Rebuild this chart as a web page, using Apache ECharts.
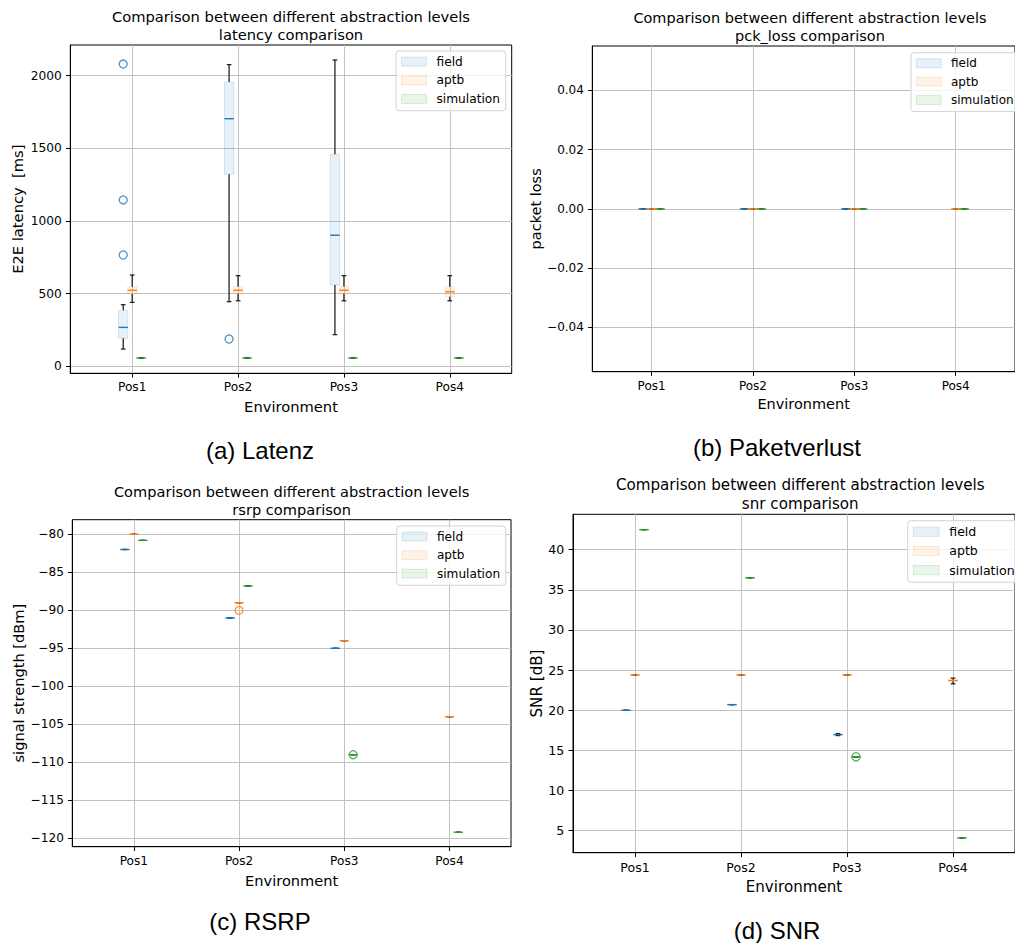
<!DOCTYPE html>
<html>
<head>
<meta charset="utf-8">
<script src="https://cdn.jsdelivr.net/npm/echarts@6/dist/echarts.min.js"></script>
<style>
html,body{margin:0;padding:0;background:#fff;}
#chart{width:1015px;height:943px;}
</style>
</head>
<body>
<div id="chart"></div>
<script>
// ---------------- DATA ----------------
const categories = ['Pos1', 'Pos2', 'Pos3', 'Pos4'];
const groups = ['field', 'aptb', 'simulation'];

// Box statistics per category: [lower whisker, Q1, median, Q3, upper whisker]; null = no data
const latencyField = [[119, 193, 268, 385, 424], [445, 1321, 1704, 1957, 2076], [218, 560, 902, 1459, 2108], null];
const latencyAptb  = [[440, 498, 523, 548, 628], [451, 500, 523, 550, 624], [451, 500, 523, 550, 624], [451, 479, 513, 548, 624]];
const latencySim   = [[55, 56, 57, 58, 60], [55, 56, 57, 58, 60], [55, 56, 57, 58, 60], [55, 56, 57, 58, 60]];
// Outliers: [category index, value]
const latencyFieldFliers = [[0, 2080], [0, 1145], [0, 766], [1, 188]];
const latencyTicks = [0, 500, 1000, 1500, 2000];

const pckLossField = [[0, 0, 0, 0, 0], [0, 0, 0, 0, 0], [0, 0, 0, 0, 0], null];
const pckLossAptb  = [[0, 0, 0, 0, 0], [0, 0, 0, 0, 0], [0, 0, 0, 0, 0], [0, 0, 0, 0, 0]];
const pckLossSim   = [[0, 0, 0, 0, 0], [0, 0, 0, 0, 0], [0, 0, 0, 0, 0], [0, 0, 0, 0, 0]];
const pckLossTicks = [-0.04, -0.02, 0, 0.02, 0.04];

const rsrpField = [[-82, -82, -82, -82, -82], [-91, -91, -91, -91, -91], [-95, -95, -95, -95, -95], null];
const rsrpAptb  = [[-80, -80, -80, -80, -80], [-89, -89, -89, -89, -89], [-94, -94, -94, -94, -94], [-104, -104, -104, -104, -104]];
const rsrpSim   = [[-80.8, -80.8, -80.8, -80.8, -80.8], [-86.8, -86.8, -86.8, -86.8, -86.8], [-109, -109, -109, -109, -109], [-119.2, -119.2, -119.2, -119.2, -119.2]];
const rsrpAptbFliers = [[1, -90]];
const rsrpSimFliers  = [[2, -109]];
const rsrpTicks = [-120, -115, -110, -105, -100, -95, -90, -85, -80];

const snrField = [[20, 20, 20, 20, 20], [20.7, 20.7, 20.7, 20.7, 20.7], [16.85, 16.95, 16.97, 17.0, 17.1], null];
const snrAptb  = [[24.4, 24.4, 24.4, 24.4, 24.4], [24.4, 24.4, 24.4, 24.4, 24.4], [24.4, 24.4, 24.4, 24.4, 24.4], [23.3, 23.6, 23.7, 23.8, 24.0]];
const snrSim   = [[42.5, 42.5, 42.5, 42.5, 42.5], [36.5, 36.5, 36.5, 36.5, 36.5], [14.2, 14.2, 14.2, 14.2, 14.2], [4.1, 4.1, 4.1, 4.1, 4.1]];
const snrSimFliers = [[2, 14.2]];
const snrTicks = [5, 10, 15, 20, 25, 30, 35, 40];

const titleLine1 = 'Comparison between different abstraction levels';

// ---------------- STYLE / LAYOUT ----------------
const FONT = 'DejaVu Sans';
const CAPTION_FONT = 'Liberation Sans';
const colors = ['#1f77b4', '#ff7f0e', '#2ca02c'];
const boxFill = ['rgba(31,119,180,0.10)', 'rgba(255,127,14,0.10)', 'rgba(44,160,44,0.10)'];
const boxEdge = ['rgba(31,119,180,0.16)', 'rgba(255,127,14,0.16)', 'rgba(44,160,44,0.16)'];
const offsets = [-0.085, 0, 0.085];
const BOX_W = 0.088;
const X_MIN = 0.415, X_MAX = 4.585;
const GRID_COLOR = '#c2c2c2';

const minusFmt = s => s.replace('-', '\u2212');

const panels = [
  { sub: 'latency comparison', yName: 'E2E latency  [ms]', caption: '(a) Latenz',
    box: [latencyField, latencyAptb, latencySim], fliers: [latencyFieldFliers, [], []],
    yMin: -48, yMax: 2211, ticks: latencyTicks, fmt: v => minusFmt(String(v)),
    grid: { left: 70.3, top: 45, width: 441.4, height: 328.3 }, s: 1, nameGapY: 45,
    caption_xy: [260, 450], legend: { left: 396, top: 51 } },
  { sub: 'pck_loss comparison', yName: 'packet loss', caption: '(b) Paketverlust',
    box: [pckLossField, pckLossAptb, pckLossSim], fliers: [[], [], []],
    yMin: -0.055, yMax: 0.055, ticks: pckLossTicks, fmt: v => minusFmt(Number(v).toFixed(2)),
    grid: { left: 592.3, top: 46, width: 435.3, height: 325.7 }, s: 0.986, nameGapY: 49.7,
    caption_xy: [777, 447], legend: { left: 911, top: 52.7 } },
  { sub: 'rsrp comparison', yName: 'signal strength [dBm]', caption: '(c) RSRP',
    box: [rsrpField, rsrpAptb, rsrpSim], fliers: [[], rsrpAptbFliers, rsrpSimFliers],
    yMin: -121.1, yMax: -78.08, ticks: rsrpTicks, fmt: v => minusFmt(String(v)),
    grid: { left: 72.3, top: 519.7, width: 438.7, height: 327 }, s: 0.993, nameGapY: 46.6,
    caption_xy: [260, 921], legend: { left: 396.7, top: 526 } },
  { sub: 'snr comparison', yName: 'SNR [dB]', caption: '(d) SNR',
    box: [snrField, snrAptb, snrSim], fliers: [[], [], snrSimFliers],
    yMin: 2.26, yMax: 44.41, ticks: snrTicks, fmt: v => minusFmt(String(v)),
    grid: { left: 573, top: 514.3, width: 454.5, height: 338.4 }, s: 1.03, nameGapY: 29,
    caption_xy: [777, 930], legend: { left: 907.7, top: 520.7 } }
];

function makeRenderer(g) {
  return function (params, api) {
    const x = api.value(0);
    const lo = api.value(1), q1 = api.value(2), med = api.value(3), q3 = api.value(4), hi = api.value(5);
    const w = api.size([BOX_W, 0])[0];
    const pLo = api.coord([x, lo]), pQ1 = api.coord([x, q1]), pMed = api.coord([x, med]);
    const pQ3 = api.coord([x, q3]), pHi = api.coord([x, hi]);
    const cx = pMed[0];
    const wStyle = { stroke: '#222', lineWidth: 1.3 };
    return {
      type: 'group',
      children: [
        { type: 'rect', shape: { x: cx - w / 2, y: pQ3[1], width: w, height: pQ1[1] - pQ3[1] },
          style: { fill: boxFill[g], stroke: boxEdge[g], lineWidth: 1 } },
        { type: 'line', shape: { x1: cx, y1: pQ3[1], x2: cx, y2: pHi[1] }, style: wStyle },
        { type: 'line', shape: { x1: cx, y1: pQ1[1], x2: cx, y2: pLo[1] }, style: wStyle },
        { type: 'line', shape: { x1: cx - w / 4, y1: pHi[1], x2: cx + w / 4, y2: pHi[1] }, style: wStyle },
        { type: 'line', shape: { x1: cx - w / 4, y1: pLo[1], x2: cx + w / 4, y2: pLo[1] }, style: wStyle },
        { type: 'line', shape: { x1: cx - w / 2, y1: pMed[1], x2: cx + w / 2, y2: pMed[1] },
          style: { stroke: colors[g], lineWidth: 1.4 } }
      ]
    };
  };
}

const option = {
  animation: false,
  backgroundColor: '#fff',
  grid: [], xAxis: [], yAxis: [], series: [], legend: [], graphic: []
};

panels.forEach((p, i) => {
  const s = p.s;
  option.grid.push(Object.assign({ show: true, borderColor: '#000', borderWidth: 1, backgroundColor: 'transparent' }, p.grid));
  option.xAxis.push({
    type: 'value', gridIndex: i, min: X_MIN, max: X_MAX,
    name: 'Environment', nameLocation: 'middle', nameGap: 26 * s,
    nameTextStyle: { fontFamily: FONT, fontSize: 14.7 * s, color: '#000' },
    axisLine: { show: true, onZero: false, lineStyle: { color: '#000', width: 1 } },
    axisTick: { show: true, length: 4.3 * s, lineStyle: { color: '#000' }, customValues: [1, 2, 3, 4] },
    axisLabel: { customValues: [1, 2, 3, 4], formatter: v => categories[Math.round(v) - 1],
      margin: 8 * s, fontFamily: FONT, fontSize: 12.2 * s, color: '#000' },
    splitLine: { show: true, lineStyle: { color: GRID_COLOR, width: 1 } }
  });
  option.yAxis.push({
    type: 'value', gridIndex: i, min: p.yMin, max: p.yMax,
    name: p.yName, nameLocation: 'middle', nameGap: p.nameGapY,
    nameTextStyle: { fontFamily: FONT, fontSize: 14.7 * s, color: '#000' },
    axisLine: { show: true, onZero: false, lineStyle: { color: '#000', width: 1 } },
    axisTick: { show: true, length: 4.3 * s, lineStyle: { color: '#000' }, customValues: p.ticks },
    axisLabel: { customValues: p.ticks, formatter: p.fmt, margin: 8.5 * s,
      fontFamily: FONT, fontSize: 12.2 * s, color: '#000' },
    splitLine: { show: true, lineStyle: { color: GRID_COLOR, width: 1 } }
  });
  groups.forEach((gName, g) => {
    const data = [];
    p.box[g].forEach((st, ci) => {
      if (st) data.push([ci + 1 + offsets[g]].concat(st));
    });
    option.series.push({
      type: 'custom', name: gName, xAxisIndex: i, yAxisIndex: i,
      renderItem: makeRenderer(g), data: data, silent: true,
      encode: { x: 0, y: [1, 2, 3, 4, 5] }, z: 2,
      itemStyle: { color: colors[g] }
    });
    if (p.fliers[g].length) {
      option.series.push({
        type: 'scatter', name: gName, xAxisIndex: i, yAxisIndex: i, silent: true,
        symbol: 'circle', symbolSize: 8 * s, z: 3,
        itemStyle: { color: 'rgba(0,0,0,0)', borderColor: colors[g], borderWidth: 1.3 },
        data: p.fliers[g].map(f => [f[0] + 1 + offsets[g], f[1]])
      });
    }
  });
  option.legend.push({
    left: p.legend.left, top: p.legend.top, orient: 'vertical', icon: 'rect',
    itemWidth: 25 * s, itemHeight: 9 * s, itemGap: 4.65 * s,
    padding: [3.7 * s, 5.7 * s, 4.7 * s, 5 * s], selectedMode: false,
    backgroundColor: 'rgba(255,255,255,0.8)', borderColor: '#d4d4d4', borderWidth: 1, borderRadius: 3,
    textStyle: { fontFamily: FONT, fontSize: 12.2 * s, lineHeight: 14 * s, color: '#000', padding: [0, 0, 0, 5 * s] },
    data: groups.map((gName, g) => ({
      name: gName,
      itemStyle: { color: boxFill[g], borderColor: boxEdge[g], borderWidth: 1 }
    }))
  });
  const cx = p.grid.left + p.grid.width / 2;
  const tY = p.grid.top - 28.6 * s;
  option.graphic.push({
    type: 'text', silent: true, z: 10,
    style: { text: titleLine1, x: cx, y: tY, align: 'center', verticalAlign: 'middle',
      font: (14.7 * s) + 'px "' + FONT + '"', fill: '#000' }
  });
  option.graphic.push({
    type: 'text', silent: true, z: 10,
    style: { text: p.sub, x: cx, y: tY + 18.3 * s, align: 'center', verticalAlign: 'middle',
      font: (14.7 * s) + 'px "' + FONT + '"', fill: '#000' }
  });
  option.graphic.push({
    type: 'text', silent: true, z: 10,
    style: { text: p.caption, x: p.caption_xy[0], y: p.caption_xy[1], align: 'center', verticalAlign: 'middle',
      font: '24px "' + CAPTION_FONT + '"', fill: '#000' }
  });
});

const chart = echarts.init(document.getElementById('chart'), null, { renderer: 'svg' });
chart.setOption(option);
</script>
</body>
</html>
